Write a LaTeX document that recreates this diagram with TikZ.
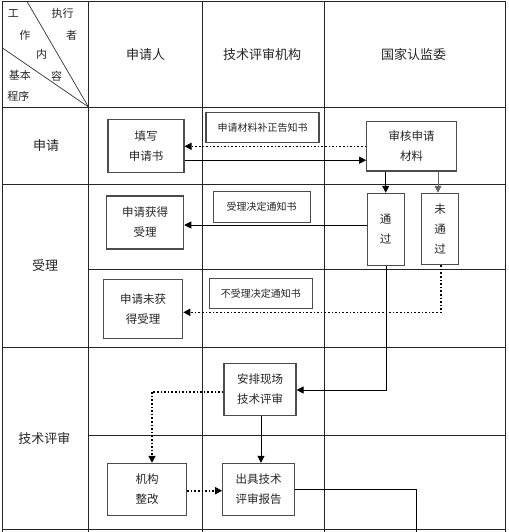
\documentclass[tikz,border=0pt]{standalone}
\usepackage{fontspec}
\setmainfont{Noto Sans CJK SC}
\usetikzlibrary{arrows.meta,calc}
\begin{document}
\begin{tikzpicture}[x=1pt,y=-1pt,
  grid/.style={draw=black!85,line width=0.9pt},
  box/.style={draw=black!70,line width=1.1pt,fill=white,align=center,inner sep=0pt,
    font=\fontsize{11.5}{20}\selectfont,text=black!85},
  note/.style={draw=black!70,line width=1.1pt,fill=white,align=center,inner sep=0pt,
    font=\fontsize{10}{12}\selectfont,text=black!85},
  lbl/.style={font=\fontsize{13}{15}\selectfont,text=black!85},
  hd/.style={font=\fontsize{11}{13}\selectfont,text=black!85,inner sep=0pt},
  arr/.style={line width=0.8pt,-{Triangle[length=7pt,width=7pt]}},
  dot/.style={line width=1.6pt,dotted,-{Triangle[length=7pt,width=7pt]}},
  ln/.style={line width=0.8pt}]
\useasboundingbox (0,0) rectangle (508,532);
\fill[white] (0,0) rectangle (508,532);
% table
\draw[grid] (2.5,1.5) -- (505,1.5);
\draw[grid] (2.5,1.5) -- (2.5,532);
\draw[grid] (505,1.5) -- (505,532);
\draw[grid] (88.5,1.5) -- (88.5,532);
\draw[grid] (202.5,1.5) -- (202.5,532);
\draw[grid] (324,1.5) -- (324,532);
\draw[grid] (2.5,107) -- (505,107);
\draw[grid] (2.5,184) -- (505,184);
\draw[grid] (88.5,269) -- (505,269);
\draw[grid] (2.5,347) -- (505,347);
\draw[grid] (88.5,435.5) -- (505,435.5);
\draw[grid] (2.5,529.5) -- (505,529.5);
% header diagonal
\draw[line width=0.7pt,black!80] (88.5,107) -- (27,1.5);
\draw[line width=0.7pt,black!80] (88.5,107) -- (2.5,48);
\node[hd] (h1) at (13.3,13.3) {工};
\node[hd] (h2) at (62.7,13.3) {执行};
\node[hd] (h3) at (25,35) {作};
\node[hd] (h4) at (71.7,35) {者};
\node[hd] (h5) at (41.7,54) {内};
\node[hd] (h6) at (20,75) {基本};
\node[hd] (h7) at (56.7,76) {容};
\node[hd] (h8) at (18.3,96.7) {程序};
% column heads
\node[lbl] (c1) at (145.5,55) {申请人};
\node[lbl] (c2) at (262,55) {技术评审机构};
\node[lbl] (c3) at (413.5,55) {国家认监委};
% row heads
\node[lbl] (r1) at (46,145.7) {申请};
\node[lbl] (r2) at (45,266) {受理};
\node[lbl] (r3) at (44.3,439) {技术评审};
% boxes
\node[box,minimum width=76pt,minimum height=52.7pt] (fill) at (146,145.7) {填写\\申请书};
\node[note,minimum width=113pt,minimum height=29.6pt] (bz) at (262.5,127.5) {申请材料补正告知书};
\node[box,minimum width=90pt,minimum height=49.3pt] (sh) at (411.7,146.3) {审核申请\\材料};
\node[box,minimum width=36.7pt,minimum height=72.4pt] (tg) at (385.7,229.5) {通\\过};
\node[box,minimum width=36.6pt,minimum height=71.4pt] (wtg) at (440,229) {未\\通\\过};
\node[box,minimum width=77pt,minimum height=53pt] (hd) at (145.2,222.5) {申请获得\\受理};
\node[note,minimum width=96.7pt,minimum height=30.6pt] (sl) at (261.7,207) {受理决定通知书};
\node[box,minimum width=79.4pt,minimum height=59.3pt] (whd) at (143,308.7) {申请未获\\得受理};
\node[note,minimum width=103pt,minimum height=30pt] (bsl) at (260.8,293.3) {不受理决定通知书};
\node[box,minimum width=72pt,minimum height=51.7pt] (ap) at (260,389.2) {安排现场\\技术评审};
\node[box,minimum width=79.4pt,minimum height=51.7pt] (jg) at (147,489.2) {机构\\整改};
\node[box,minimum width=72pt,minimum height=51.7pt] (cj) at (258.7,489.2) {出具技术\\评审报告};
% connectors
\draw[dot] (sh.west) -- (sh.west -| fill.east);
\path ([yshift=-14.5pt]fill.east) coordinate (s1);
\draw[arr] (s1) -- (s1 -| sh.west);
\draw[arr] (tg.north |- sh.south) -- (tg.north);
\draw[arr,black!60] ([xshift=-2pt]wtg.north |- sh.south) -- ([xshift=-2pt]wtg.north);
\path ([yshift=4.5pt]tg.west) coordinate (s2);
\draw[arr] (s2) -- (s2 -| hd.east);
\path ([yshift=-3.6pt]whd.east) coordinate (s3);
\draw[dot] ([xshift=1pt]wtg.south) |- (s3);
\draw[arr] ([xshift=1pt]tg.south) |- ([yshift=-0.8pt]ap.east);
\path ([yshift=-2.5pt]ap.west) coordinate (s4);
\draw[dot] (s4) -| ([xshift=5pt]jg.north);
\draw[arr] ([xshift=1pt]ap.south) -- ([xshift=1pt]ap.south |- cj.north);
\path ([yshift=-1.5pt]jg.east) coordinate (s5);
\draw[dot] (s5) -- (s5 -| cj.west);
\coordinate (e1) at (416.7,532);
\draw[ln] (cj.east) -| (e1);
\end{tikzpicture}
\end{document}
